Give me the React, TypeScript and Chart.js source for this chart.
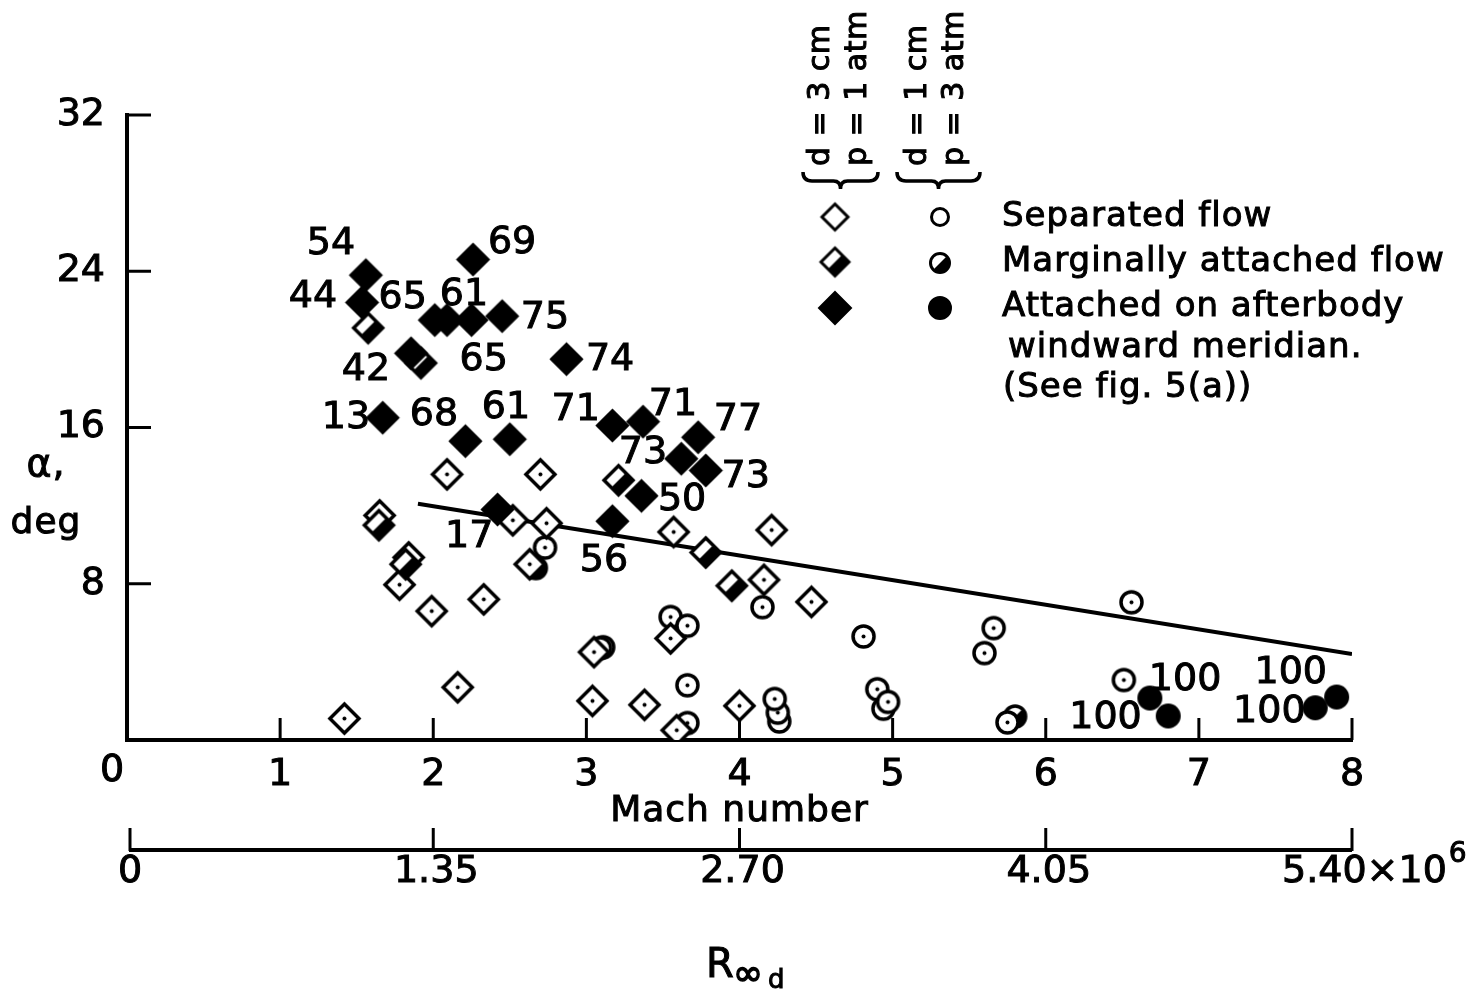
import React, { useEffect, useRef } from "react";
import { Chart, registerables } from "chart.js";

Chart.register(...registerables);

const FONT = "'DejaVu Sans', 'Liberation Sans', sans-serif";

// Axis ticks
const machTicks = [1, 2, 3, 4, 5, 6, 7, 8];
const alphaTicks = [8, 16, 24, 32];
const reynoldsTicks = [0, 1.35, 2.7, 4.05, 5.4];
const reynoldsTickLabels = ["0", "1.35", "2.70", "4.05", "5.40"];
const reynoldsPerMach = 0.675;

// d = 3 cm, p = 1 atm : separated flow (open diamonds)
const sepDiamondX = [2.09, 2.70, 1.65, 2.52, 2.74, 2.63, 1.84, 1.78, 1.99, 2.33, 3.05, 2.16, 3.04, 1.42, 3.38, 3.57, 4.21, 4.16, 4.47, 3.55, 4.00, 3.59];
const sepDiamondY = [13.6, 13.6, 11.5, 11.25, 11.1, 9.0, 9.35, 7.95, 6.6, 7.2, 4.5, 2.7, 2.0, 1.1, 1.8, 10.65, 10.75, 8.2, 7.07, 5.2, 1.75, 0.5];

// d = 3 cm : marginally attached flow
const margDiamondX = [1.575, 1.92, 1.645, 1.82, 3.21, 3.78, 3.95];
const margDiamondY = [21.1, 19.3, 11.0, 9.0, 13.3, 9.6, 7.9];

// d = 3 cm : attached on afterbody windward meridian
const attDiamondX = [1.56, 1.535, 2.01, 2.09, 2.25, 2.45, 2.26, 1.855, 2.87, 1.67, 2.21, 2.50, 3.17, 3.37, 3.73, 3.62, 3.78, 3.36, 3.17, 2.42];
const attDiamondY = [23.8, 22.4, 21.5, 21.5, 21.5, 21.7, 24.6, 19.8, 19.5, 16.5, 15.3, 15.4, 16.1, 16.3, 15.5, 14.4, 13.8, 12.5, 11.2, 11.8];

// d = 1 cm, p = 3 atm : separated flow (open circles)
const sepCircleX = [2.73, 3.11, 3.09, 4.15, 3.55, 3.66, 4.81, 3.66, 4.26, 4.25, 4.23, 4.94, 4.90, 4.97, 5.66, 5.60, 5.75, 6.56, 6.51, 3.66];
const sepCircleY = [9.85, 4.75, 4.7, 6.8, 6.3, 5.85, 5.3, 2.8, 0.95, 1.4, 2.1, 1.6, 2.6, 1.95, 5.73, 4.45, 0.9, 7.05, 3.07, 0.87];

// d = 1 cm : marginally attached flow
const margCircleX = [5.80, 2.67];
const margCircleY = [1.2, 8.8];

// d = 1 cm : attached
const attCircleX = [6.68, 6.80, 7.76, 7.90];
const attCircleY = [2.15, 1.23, 1.65, 2.2];

// Fairing line
const fitX = [1.9, 8.0];
const fitY = [12.1, 4.4];

// Point labels
const labelText = ["54", "44", "65", "61", "69", "75", "42", "65", "74", "13", "68", "61", "71", "71", "77", "73", "73", "50", "17", "56", "100", "100", "100", "100"];
const labelX = [1.332, 1.215, 1.80, 2.20, 2.515, 2.73, 1.56, 2.33, 3.155, 1.43, 2.005, 2.475, 2.93, 3.565, 3.99, 3.37, 4.04, 3.625, 2.235, 3.115, 6.39, 6.91, 7.46, 7.60];
const labelY = [25.4, 22.7, 22.6, 22.8, 25.45, 21.6, 18.95, 19.45, 19.45, 16.5, 16.65, 17.0, 16.9, 17.15, 16.4, 14.7, 13.45, 12.3, 10.4, 9.15, 1.13, 3.07, 1.43, 3.43];

const legendTexts = ["Separated flow", "Marginally attached flow", "Attached on afterbody", "windward meridian.", "(See fig. 5(a))"];
const headerTexts = ["d = 3 cm", "p = 1 atm", "d = 1 cm", "p = 3 atm"];

type Kind = "dOpen" | "dMarg" | "dFull" | "cOpen" | "cMarg" | "cFull";

function makeMarker(kind: Kind, h: number, lw: number, dot: boolean): HTMLCanvasElement {
  const size = Math.ceil(2 * h + lw + 4);
  const cv = document.createElement("canvas");
  cv.width = size;
  cv.height = size;
  const g = cv.getContext("2d")!;
  const c = size / 2;
  g.lineWidth = lw;
  g.strokeStyle = "#000";
  g.lineJoin = "miter";
  if (kind[0] === "d") {
    const path = () => {
      g.beginPath();
      g.moveTo(c, c - h);
      g.lineTo(c + h, c);
      g.lineTo(c, c + h);
      g.lineTo(c - h, c);
      g.closePath();
    };
    path();
    g.fillStyle = kind === "dFull" ? "#000" : "#fff";
    g.fill();
    if (kind === "dMarg") {
      g.beginPath();
      g.moveTo(c - h / 2, c + h / 2);
      g.lineTo(c, c + h);
      g.lineTo(c + h, c);
      g.lineTo(c + h / 2, c - h / 2);
      g.closePath();
      g.fillStyle = "#000";
      g.fill();
    }
    path();
    g.stroke();
  } else {
    g.beginPath();
    g.arc(c, c, h, 0, Math.PI * 2);
    g.fillStyle = kind === "cFull" ? "#000" : "#fff";
    g.fill();
    if (kind === "cMarg") {
      g.beginPath();
      g.arc(c, c, h, -Math.PI / 4, (3 * Math.PI) / 4);
      g.closePath();
      g.fillStyle = "#000";
      g.fill();
    }
    g.beginPath();
    g.arc(c, c, h, 0, Math.PI * 2);
    g.stroke();
  }
  if (dot && (kind === "dOpen" || kind === "cOpen")) {
    g.beginPath();
    g.arc(c, c, 2, 0, Math.PI * 2);
    g.fillStyle = "#000";
    g.fill();
  }
  return cv;
}

function pts(xs: number[], ys: number[]) {
  return xs.map((x, i) => ({ x, y: ys[i] }));
}

export default function App() {
  const ref = useRef<HTMLCanvasElement | null>(null);

  useEffect(() => {
    const canvas = ref.current;
    if (!canvas) return;

    const mk = {
      dOpen: makeMarker("dOpen", 14.5, 3.5, true),
      dMarg: makeMarker("dMarg", 14.5, 3.5, false),
      dFull: makeMarker("dFull", 15, 3, false),
      cOpen: makeMarker("cOpen", 10.5, 3.5, true),
      cMarg: makeMarker("cMarg", 10.5, 3.5, false),
      cFull: makeMarker("cFull", 11.5, 2, false),
    };
    const lg = {
      dOpen: makeMarker("dOpen", 13, 3, false),
      dMarg: makeMarker("dMarg", 14, 3, false),
      dFull: makeMarker("dFull", 16, 2, false),
      cOpen: makeMarker("cOpen", 8.5, 3, false),
      cMarg: makeMarker("cMarg", 9.5, 3, false),
      cFull: makeMarker("cFull", 11, 2, false),
    };

    const decor = {
      id: "decor",
      afterDraw(chart: any) {
        const ctx: CanvasRenderingContext2D = chart.ctx;
        const xs = chart.scales.x;
        const ys = chart.scales.y;
        const x0 = xs.getPixelForValue(0);
        const y0 = ys.getPixelForValue(0);
        ctx.save();
        ctx.fillStyle = "#000";
        ctx.strokeStyle = "#000";
        const txt = (t: string, x: number, y: number, sw = 1) => {
          ctx.fillText(t, x, y);
          ctx.lineWidth = sw;
          ctx.strokeText(t, x, y);
        };

        // inward ticks
        ctx.lineWidth = 3;
        machTicks.forEach((v) => {
          const px = xs.getPixelForValue(v);
          ctx.beginPath();
          ctx.moveTo(px, y0);
          ctx.lineTo(px, y0 - 22);
          ctx.stroke();
        });
        alphaTicks.forEach((v) => {
          const py = ys.getPixelForValue(v);
          ctx.beginPath();
          ctx.moveTo(x0, py);
          ctx.lineTo(x0 + 24, py);
          ctx.stroke();
        });

        // corner zero
        ctx.font = `38px ${FONT}`;
        ctx.textAlign = "center";
        ctx.textBaseline = "middle";
        txt("0", x0 - 15, y0 + 31);

        // axis titles
        ctx.font = `36px ${FONT}`;
        (ctx as any).letterSpacing = "1px";
        txt("Mach number", (xs.left + xs.right) / 2, y0 + 72);
        ctx.font = `38px ${FONT}`;
        txt("\u03b1,", 46, ys.getPixelForValue(14));
        ctx.font = `36px ${FONT}`;
        txt("deg", 46, ys.getPixelForValue(11.1));
        (ctx as any).letterSpacing = "0px";

        // secondary Reynolds-number axis
        const ry = 850;
        const rx = (r: number) => xs.getPixelForValue(r / reynoldsPerMach);
        ctx.lineWidth = 4;
        ctx.beginPath();
        ctx.moveTo(rx(0) + 2, ry);
        ctx.lineTo(rx(5.4), ry);
        ctx.stroke();
        ctx.lineWidth = 3;
        reynoldsTicks.forEach((r) => {
          ctx.beginPath();
          ctx.moveTo(rx(r) + (r === 0 ? 3 : 0), ry + 1);
          ctx.lineTo(rx(r) + (r === 0 ? 3 : 0), ry - 22);
          ctx.stroke();
        });
        ctx.font = `38px ${FONT}`;
        reynoldsTicks.forEach((r, i) => {
          if (i === reynoldsTicks.length - 1) {
            ctx.textAlign = "left";
            const sx = rx(r) - 70;
            txt(reynoldsTickLabels[i] + "\u00d710", sx, ry + 22);
            const w = ctx.measureText(reynoldsTickLabels[i] + "\u00d710").width;
            ctx.font = `28px ${FONT}`;
            txt("6", sx + w + 2, ry + 5);
            ctx.font = `38px ${FONT}`;
            ctx.textAlign = "center";
          } else {
            txt(reynoldsTickLabels[i], rx(r) + 3, ry + 22);
          }
        });
        // R_inf_d
        ctx.textAlign = "left";
        ctx.textBaseline = "alphabetic";
        ctx.font = `40px ${FONT}`;
        txt("R", 706, 977);
        ctx.font = `36px ${FONT}`;
        txt("\u221e", 733, 985, 1.5);
        ctx.font = `26px ${FONT}`;
        txt("d", 768, 988);

        // point labels
        ctx.font = `38px ${FONT}`;
        ctx.textAlign = "center";
        ctx.textBaseline = "middle";
        labelText.forEach((t, i) => {
          txt(t, xs.getPixelForValue(labelX[i]), ys.getPixelForValue(labelY[i]));
        });

        // legend header (rotated)
        ctx.font = `30px ${FONT}`;
        (ctx as any).letterSpacing = "0.5px";
        ctx.textAlign = "left";
        const colX = [821, 858, 918, 955];
        headerTexts.forEach((t, i) => {
          ctx.save();
          ctx.translate(colX[i], 166);
          ctx.rotate(-Math.PI / 2);
          txt(t, 0, 0);
          ctx.restore();
        });
        (ctx as any).letterSpacing = "0px";

        // braces
        const brace = (a: number, b: number, top: number) => {
          const m = (a + b) / 2;
          ctx.beginPath();
          ctx.moveTo(a, top);
          ctx.quadraticCurveTo(a, top + 9, a + 9, top + 9);
          ctx.lineTo(m - 7, top + 9);
          ctx.quadraticCurveTo(m, top + 9, m, top + 17);
          ctx.quadraticCurveTo(m, top + 9, m + 7, top + 9);
          ctx.lineTo(b - 9, top + 9);
          ctx.quadraticCurveTo(b, top + 9, b, top + 0);
          ctx.stroke();
        };
        ctx.lineWidth = 3.5;
        brace(803, 878, 172);
        brace(897, 980, 172);

        // legend markers
        const put = (cv: HTMLCanvasElement, x: number, y: number) =>
          ctx.drawImage(cv, x - cv.width / 2, y - cv.height / 2);
        put(lg.dOpen, 835, 217);
        put(lg.cOpen, 940, 217);
        put(lg.dMarg, 835, 262);
        put(lg.cMarg, 940, 263);
        put(lg.dFull, 835, 308);
        put(lg.cFull, 940, 308);

        // legend text
        ctx.font = `34px ${FONT}`;
        (ctx as any).letterSpacing = "1px";
        ctx.textAlign = "left";
        ctx.textBaseline = "middle";
        const lx = [1002, 1002, 1002, 1008, 1003];
        const ly = [217, 262, 307, 348, 388];
        legendTexts.forEach((t, i) => txt(t, lx[i], ly[i]));
        (ctx as any).letterSpacing = "0px";

        ctx.restore();
      },
    };

    const chart = new Chart(canvas, {
      type: "scatter",
      data: {
        datasets: [
          {
            type: "line",
            label: "fairing",
            data: pts(fitX, fitY),
            borderColor: "#000",
            borderWidth: 4,
            pointRadius: 0,
            fill: false,
            order: 10,
          } as any,
          { label: "sep d=3", data: pts(sepDiamondX, sepDiamondY), pointStyle: mk.dOpen, pointRadius: 15, order: 5 },
          { label: "marg d=3", data: pts(margDiamondX, margDiamondY), pointStyle: mk.dMarg, pointRadius: 15, order: 4 },
          { label: "att d=3", data: pts(attDiamondX, attDiamondY), pointStyle: mk.dFull, pointRadius: 15, order: 3 },
          { label: "sep d=1", data: pts(sepCircleX, sepCircleY), pointStyle: mk.cOpen, pointRadius: 11, order: 6 },
          { label: "marg d=1", data: pts(margCircleX, margCircleY), pointStyle: mk.cMarg, pointRadius: 11, order: 7 },
          { label: "att d=1", data: pts(attCircleX, attCircleY), pointStyle: mk.cFull, pointRadius: 12, order: 2 },
        ],
      },
      options: {
        responsive: false,
        animation: false,
        events: [],
        layout: { padding: { left: 0, right: 128, top: 115, bottom: 192 } },
        plugins: { legend: { display: false }, tooltip: { enabled: false } },
        scales: {
          x: {
            type: "linear",
            min: 0,
            max: 8,
            position: "bottom",
            grid: { display: false, drawTicks: false },
            border: { display: true, color: "#000", width: 4 },
            ticks: {
              stepSize: 1,
              color: "#000",
              padding: 12,
              textStrokeColor: "#000",
              textStrokeWidth: 1,
              font: { family: FONT, size: 38 },
              callback: (v: any) => (v === 0 ? "" : String(v)),
            },
            afterFit: (s: any) => {
              s.height = 60;
            },
          },
          y: {
            type: "linear",
            min: 0,
            max: 32,
            grid: { display: false, drawTicks: false },
            border: { display: true, color: "#000", width: 4 },
            ticks: {
              stepSize: 8,
              color: "#000",
              padding: 22,
              textStrokeColor: "#000",
              textStrokeWidth: 1,
              font: { family: FONT, size: 38 },
              callback: (v: any) => (v === 0 ? "" : String(v)),
            },
            afterFit: (s: any) => {
              s.width = 127;
            },
          },
        },
      },
      plugins: [decor],
    } as any);

    return () => chart.destroy();
  }, []);

  return (
    <div style={{ position: "fixed", left: 0, top: 0, width: 1480, height: 992, background: "#fff" }}>
      <canvas ref={ref} width={1480} height={992} style={{ display: "block" }} />
    </div>
  );
}
